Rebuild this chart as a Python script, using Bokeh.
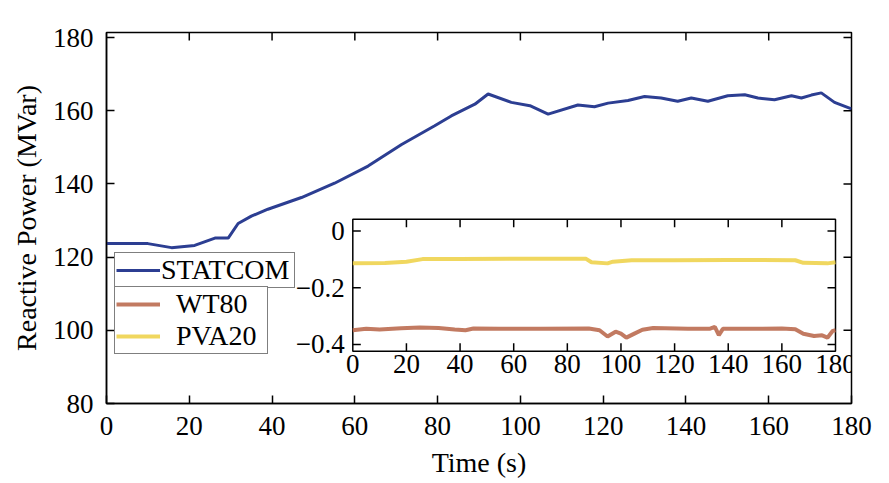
from bokeh.plotting import figure
from bokeh.models import Range1d, FixedTicker, Legend, LegendItem
from bokeh.core.properties import value
from bokeh.embed import file_html
from bokeh.resources import INLINE

# ---------------- data ----------------
statcom_t = [0, 5, 10, 15.7, 21.3, 26.2, 29.4, 31.8, 35, 39, 47.1, 55.1, 63.2, 71.3, 79.3, 83.3,
             89, 92.2, 97.8, 102.3, 106.7, 113.9, 117.9, 121.2, 126, 130, 134, 138, 141.3, 145.3,
             150.1, 154.2, 157.4, 161.4, 165.5, 167.9, 170.3, 172.7, 175.9, 180]
statcom_q = [123.7, 123.7, 123.7, 122.6, 123.2, 125.2, 125.2, 129.2, 131.2, 133.1, 136.3, 140.2,
             144.9, 150.8, 155.9, 158.6, 161.8, 164.6, 162.3, 161.4, 159.1, 161.6, 161.1, 162.1,
             162.8, 163.9, 163.5, 162.6, 163.5, 162.6, 164.1, 164.4, 163.5, 163.0, 164.1, 163.5,
             164.3, 164.9, 162.3, 160.5]

pva_t = [0, 12, 20, 26, 40, 60, 87, 89, 95, 97, 104, 120, 140, 165, 168, 177, 180]
pva_q = [-0.114, -0.113, -0.108, -0.099, -0.099, -0.098, -0.098, -0.110, -0.114, -0.108, -0.103,
         -0.103, -0.102, -0.103, -0.112, -0.114, -0.110]

wt_t = [0, 5, 10, 18, 25, 32, 38, 42, 45, 55, 70, 88, 92, 95, 98, 100, 102, 105, 108, 112, 125,
        133, 135, 136.5, 138, 150, 160, 165, 168, 172, 175, 177, 179, 180]
wt_q = [-0.350, -0.345, -0.347, -0.343, -0.340, -0.342, -0.347, -0.350, -0.344, -0.345, -0.345,
        -0.344, -0.350, -0.372, -0.355, -0.362, -0.376, -0.362, -0.348, -0.342, -0.345, -0.345,
        -0.338, -0.367, -0.345, -0.345, -0.344, -0.346, -0.362, -0.370, -0.368, -0.376, -0.352,
        -0.350]

main_x_ticks = [0, 20, 40, 60, 80, 100, 120, 140, 160, 180]
main_y_ticks = [80, 100, 120, 140, 160, 180]
inset_x_ticks = [0, 20, 40, 60, 80, 100, 120, 140, 160, 180]
inset_y_ticks = [0, -0.2, -0.4]
inset_y_labels = ["0", "\u22120.2", "\u22120.4"]

FONT = "Liberation Serif"
C_STAT = "#2c3e92"
C_WT = "#bb6c50"
C_PVA = "#eed34e"
TICK_FS = "27px"
LABEL_FS = "28px"
LEGEND_FS = "28px"

# ---------------- layout geometry (page px) ----------------
W, H = 889, 483
FL, FR, FT, FB = 106.0, 851.0, 32.3, 403.0      # main frame
IL, IR, IT, IB = 352.3, 835.0, 219.0, 350.7      # inset frame
MX0, MX1, MY0, MY1 = 0.0, 180.0, 80.0, 181.4
IX0, IX1 = 0.0, 180.0
IY1, IY0 = 0.0413, -0.4237                       # inset y range (top, bottom)

mppx = (FR - FL) / (MX1 - MX0)
mppy = (FB - FT) / (MY1 - MY0)
ppx = (IR - IL) / (IX1 - IX0)
ppy = (IB - IT) / (IY1 - IY0)
ix_start = IX0 - (IL - FL) / ppx
ix_end = IX1 + (FR - IR) / ppx
iy_start = IY0 - (FB - IB) / ppy
iy_end = IY1 + (IT - FT) / ppy
TICK = 8

p = figure(width=W, height=H, output_backend="svg", toolbar_location=None,
           x_range=Range1d(MX0, MX1), y_range=Range1d(MY0, MY1),
           min_border_left=int(FL), min_border_right=int(W - FR),
           min_border_top=int(FT), min_border_bottom=int(H - FB))
p.extra_x_ranges = {"ix": Range1d(ix_start, ix_end)}
p.extra_y_ranges = {"iy": Range1d(iy_start, iy_end)}

p.xgrid.visible = False
p.ygrid.visible = False
p.outline_line_color = "black"
p.outline_line_width = 1.5
p.background_fill_color = "white"
p.border_fill_color = "white"

def style_axis(ax, ticks):
    ax.ticker = FixedTicker(ticks=ticks)
    ax.major_tick_in = TICK
    ax.major_tick_out = 0
    ax.minor_tick_line_color = None
    ax.major_tick_line_width = 1.5
    ax.axis_line_width = 1.5
    ax.axis_line_color = "black"
    ax.major_tick_line_color = "black"
    ax.major_label_text_font = FONT
    ax.major_label_text_font_size = TICK_FS
    ax.major_label_text_color = "black"
    ax.axis_label_text_font = FONT
    ax.axis_label_text_font_size = LABEL_FS
    ax.axis_label_text_font_style = "normal"
    ax.axis_label_text_color = "black"

style_axis(p.xaxis[0], main_x_ticks)
style_axis(p.yaxis[0], main_y_ticks)
p.xaxis[0].axis_label = "Time (s)"
p.yaxis[0].axis_label = "Reactive Power (MVar)"
p.xaxis[0].major_label_standoff = 13
p.xaxis[0].axis_label_standoff = 9
p.yaxis[0].major_label_standoff = 13
p.yaxis[0].axis_label_standoff = 8

# top and right inward ticks of the main frame
tx = [t for t in main_x_ticks if MX0 < t < MX1]
ty = [v for v in main_y_ticks if MY0 < v < MY1]
p.segment(x0=tx, y0=[MY1] * len(tx), x1=tx, y1=[MY1 - TICK / mppy] * len(tx),
          line_color="black", line_width=1.5)
p.segment(x0=[MX1] * len(ty), y0=ty, x1=[MX1 - TICK / mppx] * len(ty), y1=ty,
          line_color="black", line_width=1.5)

# main line
r_stat = p.line(statcom_t, statcom_q, line_color=C_STAT, line_width=3)

# ---------------- inset ----------------
p.quad(left=[IX0], right=[IX1], bottom=[IY0], top=[IY1], fill_color="white",
       line_color="black", line_width=1.5, x_range_name="ix", y_range_name="iy")

r_wt = p.line(wt_t, wt_q, line_color=C_WT, line_width=4, line_alpha=0.9,
              x_range_name="ix", y_range_name="iy")
r_pva = p.line(pva_t, pva_q, line_color=C_PVA, line_width=4, line_alpha=0.9,
               x_range_name="ix", y_range_name="iy")

tl_y = TICK / ppy
tl_x = TICK / ppx
xt = [t for t in inset_x_ticks if IX0 < t < IX1]
yt = [v for v in inset_y_ticks if IY0 < v < IY1]
p.segment(x0=xt, y0=[IY0] * len(xt), x1=xt, y1=[IY0 + tl_y] * len(xt),
          line_color="black", line_width=1.5, x_range_name="ix", y_range_name="iy")
p.segment(x0=xt, y0=[IY1] * len(xt), x1=xt, y1=[IY1 - tl_y] * len(xt),
          line_color="black", line_width=1.5, x_range_name="ix", y_range_name="iy")
p.segment(x0=[IX0] * len(yt), y0=yt, x1=[IX0 + tl_x] * len(yt), y1=yt,
          line_color="black", line_width=1.5, x_range_name="ix", y_range_name="iy")
p.segment(x0=[IX1] * len(yt), y0=yt, x1=[IX1 - tl_x] * len(yt), y1=yt,
          line_color="black", line_width=1.5, x_range_name="ix", y_range_name="iy")

p.text(x=inset_x_ticks, y=[IY0] * len(inset_x_ticks), text=[str(t) for t in inset_x_ticks],
       text_font=value(FONT), text_font_size=TICK_FS, text_color="black",
       text_align="center", text_baseline="top", y_offset=4,
       x_range_name="ix", y_range_name="iy")
p.text(x=[IX0] * len(inset_y_ticks), y=inset_y_ticks, text=inset_y_labels,
       text_font=value(FONT), text_font_size=TICK_FS, text_color="black",
       text_align="right", text_baseline="middle", x_offset=-8,
       x_range_name="ix", y_range_name="iy")

# ---------------- legends ----------------
def make_legend(items, loc, standoff, label_width):
    lg = Legend(items=items, location=loc, orientation="vertical")
    lg.border_line_color = "black"
    lg.border_line_width = 1.5
    lg.background_fill_color = "white"
    lg.background_fill_alpha = 1.0
    lg.label_text_font = FONT
    lg.label_text_font_size = LEGEND_FS
    lg.label_text_color = "black"
    lg.glyph_width = 44
    lg.glyph_height = 18
    lg.label_height = 18
    lg.label_width = label_width
    lg.label_standoff = standoff
    lg.padding = 1
    lg.spacing = 0
    lg.margin = 0
    return lg

leg1 = make_legend([LegendItem(label="STATCOM", renderers=[r_stat])], (8, 115), 1, 132)
leg2 = make_legend([LegendItem(label="WT80", renderers=[r_wt]),
                    LegendItem(label="PVA20", renderers=[r_pva])], (8, 49), 16, 90)
p.add_layout(leg1, "center")
p.add_layout(leg2, "center")

open("out.html", "w").write(file_html(p, INLINE))
